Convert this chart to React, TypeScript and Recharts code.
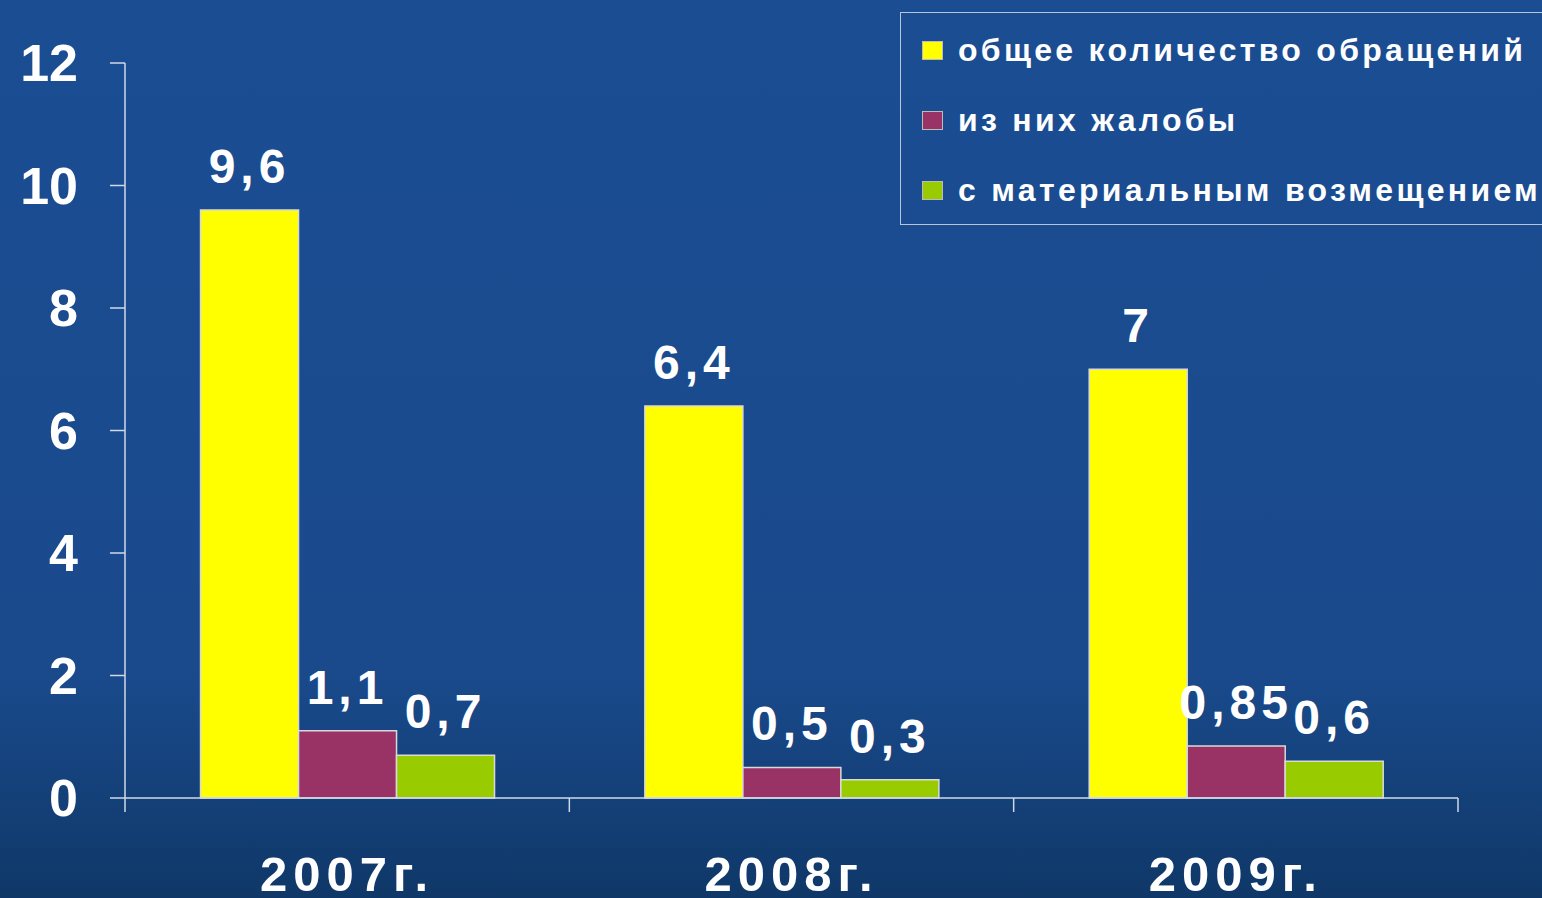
import { BarChart, Bar, XAxis, YAxis, LabelList } from 'recharts';

const years = ['2007г.', '2008г.', '2009г.'];
const totalRequests = [9.6, 6.4, 7];
const complaints = [1.1, 0.5, 0.85];
const compensated = [0.7, 0.3, 0.6];
const yTicks = [0, 2, 4, 6, 8, 10, 12];

const seriesNames = ['общее количество обращений', 'из них жалобы', 'с материальным возмещением'];
const seriesColors = ['#ffff00', '#993366', '#99cc00'];
const seriesKeys = ['total', 'complaints', 'compensated'];

const data = years.map((year, i) => ({
  year,
  total: totalRequests[i],
  complaints: complaints[i],
  compensated: compensated[i],
}));

const W = 1542;
const H = 898;
const margin = { top: 63, right: 84, left: 0, bottom: 0 };
const Y_AXIS_W = 125;
const X_AXIS_H = 100;
const FONT = 'Arial, "Liberation Sans", sans-serif';
const AXIS_COLOR = '#d0d8e8';

const fmt = (v: any) => String(v).replace('.', ',');

// year label centred on the band, tick marks on the band edges
function YearTick(props: any) {
  const { x, y, payload, index } = props;
  const plotW = W - margin.right - Y_AXIS_W;
  const half = payload?.offset || plotW / years.length / 2;
  return (
    <g>
      <line x1={x - half} x2={x - half} y1={y} y2={y + 14} stroke={AXIS_COLOR} strokeWidth={1.5} />
      {index === years.length - 1 && (
        <line x1={x + half} x2={x + half} y1={y} y2={y + 14} stroke={AXIS_COLOR} strokeWidth={1.5} />
      )}
      <text
        x={x}
        y={y + 93}
        textAnchor="middle"
        fill="#fff"
        fontSize={49}
        fontWeight="bold"
        fontFamily={FONT}
        letterSpacing={6}
      >
        {payload.value}
      </text>
    </g>
  );
}

function LegendBox() {
  return (
    <div
      style={{
        position: 'absolute',
        left: 900,
        top: 12,
        width: 660,
        height: 213,
        boxSizing: 'border-box',
        border: '1.5px solid #b8c4d8',
        paddingTop: 2,
        paddingLeft: 21,
        fontFamily: FONT,
      }}
    >
      {seriesNames.map((name, i) => (
        <div key={name} style={{ display: 'flex', alignItems: 'center', height: 70 }}>
          <span
            style={{
              display: 'inline-block',
              width: 19,
              height: 17,
              background: seriesColors[i],
              border: '1px solid #bbb',
              marginRight: 15,
              flexShrink: 0,
            }}
          />
          <span
            style={{ color: '#fff', fontSize: 32, fontWeight: 'bold', whiteSpace: 'nowrap', letterSpacing: 3.3 }}
          >
            {name}
          </span>
        </div>
      ))}
    </div>
  );
}

export default function App() {
  return (
    <div
      style={{
        position: 'absolute',
        left: 0,
        top: 0,
        width: W,
        height: H,
        overflow: 'hidden',
        background: 'linear-gradient(180deg, #1b4d93 0%, #1a4a8c 75%, #0f3868 100%)',
      }}
    >
      <BarChart width={W} height={H} data={data} margin={margin} barCategoryGap="17%" barGap={0}>
        <YAxis
          width={Y_AXIS_W}
          domain={[0, 12]}
          ticks={yTicks}
          interval={0}
          stroke={AXIS_COLOR}
          strokeWidth={1.5}
          tickSize={15}
          tickMargin={32}
          tick={{ fill: '#fff', fontSize: 52, fontWeight: 'bold', fontFamily: FONT }}
        />
        <XAxis
          dataKey="year"
          height={X_AXIS_H}
          stroke={AXIS_COLOR}
          strokeWidth={1.5}
          tickLine={false}
          tickSize={0}
          tickMargin={0}
          interval={0}
          tick={<YearTick />}
        />
        {seriesKeys.map((key, i) => (
          <Bar
            key={key}
            dataKey={key}
            name={seriesNames[i]}
            fill={seriesColors[i]}
            stroke="#d9d9d9"
            strokeWidth={1.5}
            isAnimationActive={false}
          >
            <LabelList
              dataKey={key}
              position="top"
              offset={27}
              formatter={fmt}
              fill="#fff"
              fontSize={48}
              fontWeight="bold"
              fontFamily={FONT}
              letterSpacing={5}
            />
          </Bar>
        ))}
      </BarChart>
      <LegendBox />
    </div>
  );
}
